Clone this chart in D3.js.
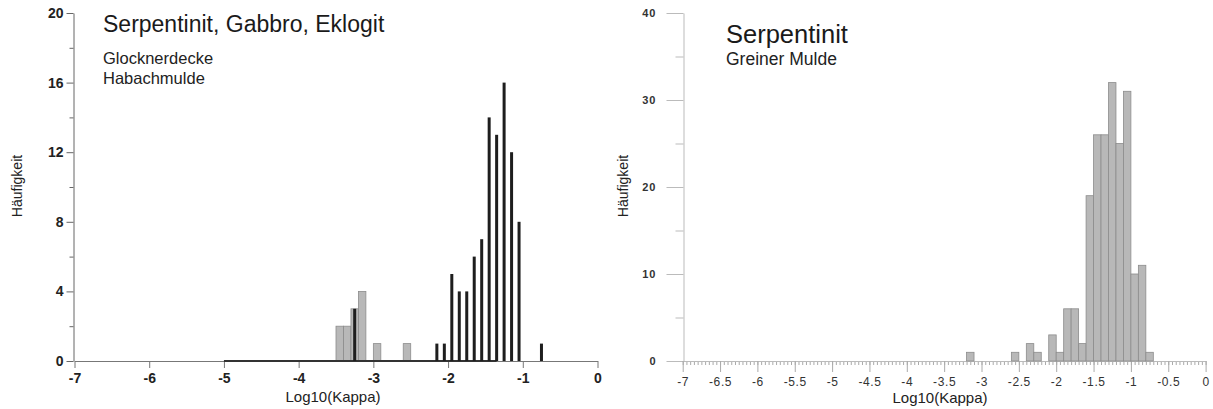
<!DOCTYPE html>
<html>
<head>
<meta charset="utf-8">
<script src="https://cdn.jsdelivr.net/npm/d3@7"></script>
<style>
  body { margin: 0; background: #fff; }
  svg { display: block; font-family: "Liberation Sans", Arial, sans-serif; }
</style>
</head>
<body>
<div id="svg-container"></div>
<script>
// data: left chart (Glocknerdecke / Habachmulde)
const grayBinStarts = [-3.5, -3.4, -3.3, -3.2, -3.0, -2.6];
const grayCounts    = [2, 2, 3, 4, 1, 1];
const blackCenters  = [-3.25, -2.15, -2.05, -1.95, -1.85, -1.75, -1.65, -1.55, -1.45, -1.35, -1.25, -1.15, -1.05, -0.75];
const blackCounts   = [3, 1, 1, 5, 4, 4, 6, 7, 14, 13, 16, 12, 8, 1];
const blackBaseline = [-5, -1.35];
const leftYTicks = [0, 4, 8, 12, 16, 20];
const leftYMinor = [2, 6, 10, 14, 18];
const leftXTicks = [-7, -6, -5, -4, -3, -2, -1, 0];

// data: right chart (Greiner Mulde)
const rightBinStarts = [-3.2, -2.6, -2.4, -2.3, -2.1, -2.0, -1.9, -1.8, -1.7, -1.6, -1.5, -1.4, -1.3, -1.2, -1.1, -1.0, -0.9, -0.8];
const rightCounts    = [1, 1, 2, 1, 3, 1, 6, 6, 2, 19, 26, 26, 32, 25, 31, 10, 11, 1];
const rightYTicks = [0, 10, 20, 30, 40];
const rightYMinor = [5, 15, 25, 35];
const rightXTicks = d3.range(0, 15).map(i => -7 + i * 0.5);
const rightXMinor = d3.range(0, 141).map(i => +(-7 + i * 0.05).toFixed(2));

const binWidth = 0.1;

const dim = { width: 1213, height: 409 };

const svg = d3.select('#svg-container')
    .append('svg')
    .attr('width', dim.width)
    .attr('height', dim.height);

// ---------- left chart ----------
const xL = d3.scaleLinear().domain([-7, 0]).range([74.5, 597.5]);
const yL = d3.scaleLinear().domain([0, 20]).range([361, 13]);

const left = svg.append('g');

// minor y ticks
left.append('g')
    .attr('transform', 'translate(73.5,0)')
    .call(d3.axisLeft(yL).tickValues(leftYMinor).tickSize(4).tickFormat(''))
    .call(g => g.select('.domain').remove())
    .call(g => g.selectAll('line').attr('stroke', '#666'));

const leftY = left.append('g')
    .attr('transform', 'translate(73.5,0)')
    .call(d3.axisLeft(yL).tickValues(leftYTicks).tickSize(7).tickPadding(3).tickSizeOuter(0));
leftY.select('.domain').attr('stroke', '#666');
leftY.selectAll('line').attr('stroke', '#666');
leftY.selectAll('text').attr('font-size', 14).attr('font-weight', 'bold').attr('fill', '#222')
    .attr('font-family', '"Liberation Sans", Arial, sans-serif');

const leftX = left.append('g')
    .attr('transform', 'translate(0,361)')
    .call(d3.axisBottom(xL).tickValues(leftXTicks).tickSize(7).tickPadding(5).tickSizeOuter(0)
        .tickFormat(d => String(d)));
leftX.select('.domain').attr('stroke', '#777');
leftX.selectAll('line').attr('stroke', '#777');
leftX.selectAll('text').attr('font-size', 14).attr('font-weight', 'bold').attr('fill', '#222')
    .attr('font-family', '"Liberation Sans", Arial, sans-serif');

// gray bins
left.append('g')
    .selectAll('rect')
    .data(grayBinStarts.map((b, i) => ({ b, n: grayCounts[i] })))
    .join('rect')
    .attr('x', d => xL(d.b))
    .attr('y', d => yL(d.n))
    .attr('width', d => xL(d.b + binWidth) - xL(d.b))
    .attr('height', d => yL(0) - yL(d.n))
    .attr('fill', '#b8b8b8')
    .attr('stroke', '#8c8c8c')
    .attr('stroke-width', 0.8);

// black baseline
left.append('line')
    .attr('x1', xL(blackBaseline[0]))
    .attr('x2', xL(blackBaseline[1]))
    .attr('y1', yL(0))
    .attr('y2', yL(0))
    .attr('stroke', '#333')
    .attr('stroke-width', 2);

// black bars
left.append('g')
    .selectAll('rect')
    .data(blackCenters.map((c, i) => ({ c, n: blackCounts[i] })))
    .join('rect')
    .attr('x', d => xL(d.c) - 1.5)
    .attr('y', d => yL(d.n))
    .attr('width', 3)
    .attr('height', d => yL(0) - yL(d.n))
    .attr('fill', '#1e1e1e');

left.append('text')
    .attr('x', 103).attr('y', 32)
    .attr('font-size', 23).attr('fill', '#1a1a1a')
    .text('Serpentinit, Gabbro, Eklogit');
left.append('text')
    .attr('x', 103).attr('y', 64)
    .attr('font-size', 16.5).attr('fill', '#222')
    .text('Glocknerdecke');
left.append('text')
    .attr('x', 103).attr('y', 83.5)
    .attr('font-size', 16.5).attr('fill', '#222')
    .text('Habachmulde');
left.append('text')
    .attr('x', 333).attr('y', 401.5)
    .attr('text-anchor', 'middle')
    .attr('font-size', 15).attr('fill', '#222')
    .text('Log10(Kappa)');
left.append('text')
    .attr('transform', 'translate(22,186) rotate(-90)')
    .attr('text-anchor', 'middle')
    .attr('font-size', 14).attr('fill', '#222')
    .text('Häufigkeit');

// ---------- right chart ----------
const xR = d3.scaleLinear().domain([-7, 0]).range([682.7, 1205.6]);
const yR = d3.scaleLinear().domain([0, 40]).range([361, 13]);

const right = svg.append('g');

right.append('g')
    .attr('transform', 'translate(683.5,0)')
    .call(d3.axisLeft(yR).tickValues(rightYMinor).tickSize(8).tickFormat(''))
    .call(g => g.select('.domain').remove())
    .call(g => g.selectAll('line').attr('stroke', '#bbb'));

const rightY = right.append('g')
    .attr('transform', 'translate(683.5,0)')
    .call(d3.axisLeft(yR).tickValues(rightYTicks).tickSize(17).tickPadding(10).tickSizeOuter(0));
rightY.select('.domain').attr('stroke', '#bbb');
rightY.selectAll('line').attr('stroke', '#bbb');
rightY.selectAll('text').attr('font-size', 11).attr('font-weight', 'bold').attr('fill', '#333')
    .attr('letter-spacing', 1)
    .attr('font-family', '"Liberation Sans", Arial, sans-serif');

right.append('g')
    .attr('transform', 'translate(0,361)')
    .call(d3.axisBottom(xR).tickValues(rightXMinor).tickSize(4).tickFormat(''))
    .call(g => g.select('.domain').remove())
    .call(g => g.selectAll('line').attr('stroke', '#aaa'));

const rightX = right.append('g')
    .attr('transform', 'translate(0,361)')
    .call(d3.axisBottom(xR).tickValues(rightXTicks).tickSize(11).tickPadding(5).tickSizeOuter(0)
        .tickFormat(d => String(d)));
rightX.select('.domain').attr('stroke', '#bbb');
rightX.selectAll('line').attr('stroke', '#aaa');
rightX.selectAll('text').attr('font-size', 12).attr('fill', '#333')
    .attr('letter-spacing', 0.6)
    .attr('font-family', '"Liberation Sans", Arial, sans-serif');

right.append('g')
    .selectAll('rect')
    .data(rightBinStarts.map((b, i) => ({ b, n: rightCounts[i] })))
    .join('rect')
    .attr('x', d => xR(d.b))
    .attr('y', d => yR(d.n))
    .attr('width', d => xR(d.b + binWidth) - xR(d.b))
    .attr('height', d => yR(0) - yR(d.n))
    .attr('fill', '#b8b8b8')
    .attr('stroke', '#8c8c8c')
    .attr('stroke-width', 0.8);

right.append('text')
    .attr('x', 726).attr('y', 43)
    .attr('font-size', 25.5).attr('fill', '#1a1a1a')
    .text('Serpentinit');
right.append('text')
    .attr('x', 726).attr('y', 65)
    .attr('font-size', 17.5).attr('fill', '#222')
    .text('Greiner Mulde');
right.append('text')
    .attr('x', 940).attr('y', 403)
    .attr('text-anchor', 'middle')
    .attr('font-size', 15).attr('fill', '#222')
    .text('Log10(Kappa)');
right.append('text')
    .attr('transform', 'translate(628,186) rotate(-90)')
    .attr('text-anchor', 'middle')
    .attr('font-size', 14).attr('fill', '#222')
    .text('Häufigkeit');
</script>
</body>
</html>
